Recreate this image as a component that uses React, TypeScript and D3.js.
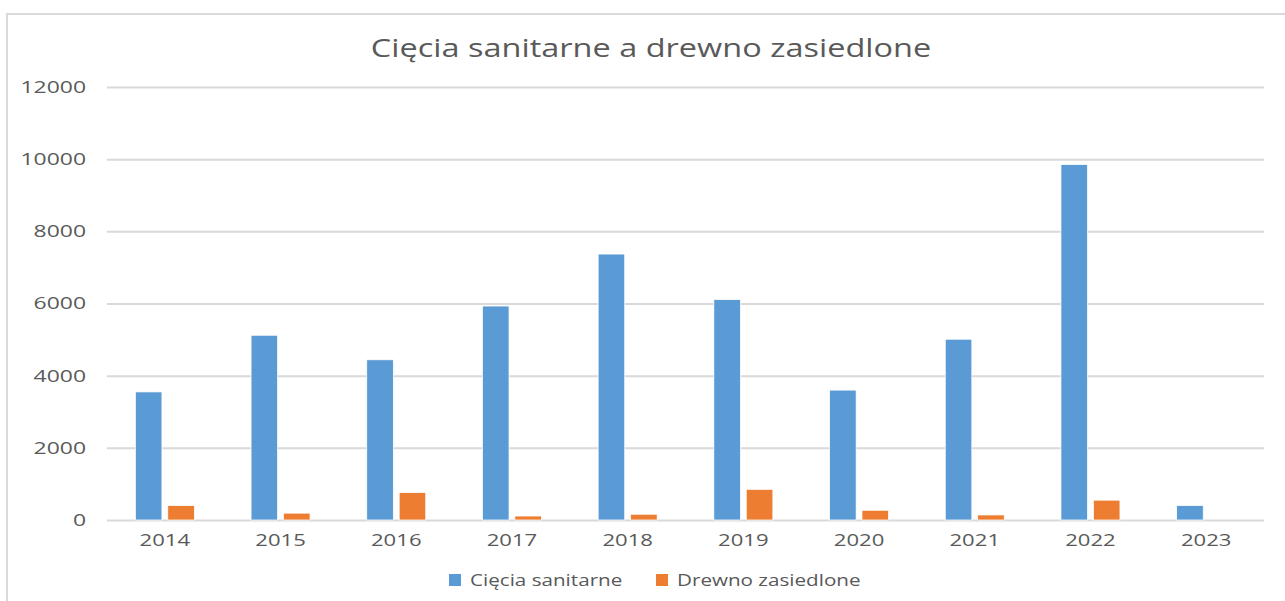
import React, { useEffect, useRef } from "react";
import * as d3 from "d3";

const years = ["2014", "2015", "2016", "2017", "2018", "2019", "2020", "2021", "2022", "2023"];
const seriesNames = ["Cięcia sanitarne", "Drewno zasiedlone"];
const cieciaSanitarne = [3550, 5120, 4440, 5930, 7370, 6110, 3600, 5010, 9850, 400];
const drewnoZasiedlone = [400, 190, 760, 110, 160, 850, 270, 140, 550, 0];
const yTicks = [0, 2000, 4000, 6000, 8000, 10000, 12000];
const colors = ["#5B9BD5", "#ED7D31"];

const W = 1285;
const H = 601;

export default function App() {
  const ref = useRef<SVGSVGElement>(null);

  useEffect(() => {
    const svg = d3.select(ref.current);
    svg.selectAll("*").remove();

    const left = 107, right = 1264, top = 87, bottom = 520;
    const font = "'Open Sans', 'Noto Sans', sans-serif";

    // chart frame
    svg.append("rect")
      .attr("x", 7).attr("y", 14)
      .attr("width", W + 20).attr("height", H + 20)
      .attr("fill", "#fff")
      .attr("stroke", "#d9d9d9")
      .attr("stroke-width", 2);

    const x0 = d3.scaleBand().domain(years).range([left, right])
      .paddingInner(0.49).paddingOuter(0.245);
    const x1 = d3.scaleBand().domain(seriesNames).range([0, x0.bandwidth()])
      .paddingInner(0.18);
    const y = d3.scaleLinear().domain([0, 12000]).range([bottom, top]);

    // gridlines + y labels (text is stretched wider, like in the picture)
    const yStretch = 1.35;
    const yAxis = svg.append("g")
      .attr("transform", `translate(${left},0)`)
      .call(d3.axisLeft(y).tickValues(yTicks).tickSize(-(right - left)).tickPadding(15.5).tickFormat(d3.format("d")));
    yAxis.select(".domain").remove();
    yAxis.selectAll("line").attr("stroke", "#d9d9d9").attr("stroke-width", 2);
    yAxis.selectAll("text")
      .attr("fill", "#595959")
      .style("font-family", font)
      .style("font-size", "17px")
      .attr("transform", `scale(${yStretch},1)`);

    // bars
    const data = [cieciaSanitarne, drewnoZasiedlone];
    seriesNames.forEach((name, si) => {
      svg.append("g")
        .selectAll("rect")
        .data(years.map((yr, i) => ({ yr, v: data[si][i] })).filter(d => d.v > 0))
        .enter()
        .append("rect")
        .attr("x", d => (x0(d.yr) as number) + (x1(name) as number))
        .attr("y", d => y(d.v))
        .attr("width", x1.bandwidth())
        .attr("height", d => bottom - y(d.v))
        .attr("fill", colors[si])
        .attr("stroke", "#fff")
        .attr("stroke-width", 0.75);
    });

    // x labels
    const xAxis = svg.append("g")
      .attr("transform", `translate(0,${bottom})`)
      .call(d3.axisBottom(x0).tickSize(0).tickPadding(14));
    xAxis.select(".domain").remove();
    xAxis.selectAll("text")
      .attr("fill", "#595959")
      .style("font-family", font)
      .style("font-size", "17px")
      .attr("transform", "scale(1.3,1)");

    // title
    svg.append("text")
      .attr("transform", "translate(651,57) scale(1.3,1)")
      .attr("text-anchor", "middle")
      .attr("fill", "#595959")
      .style("font-family", font)
      .style("font-size", "25px")
      .text("Cięcia sanitarne a drewno zasiedlone");

    // legend
    const legendX = [449, 656];
    seriesNames.forEach((name, i) => {
      const g = svg.append("g").attr("transform", `translate(${legendX[i]},574)`);
      g.append("rect").attr("width", 12).attr("height", 12).attr("fill", colors[i]);
      g.append("text")
        .attr("transform", "translate(21,11.5) scale(1.29,1)")
        .attr("fill", "#595959")
        .style("font-family", font)
        .style("font-size", "16px")
        .text(name);
    });
  }, []);

  return (
    <svg ref={ref} width={W} height={H}
      style={{ position: "absolute", left: 0, top: 0, background: "#fff" }} />
  );
}
